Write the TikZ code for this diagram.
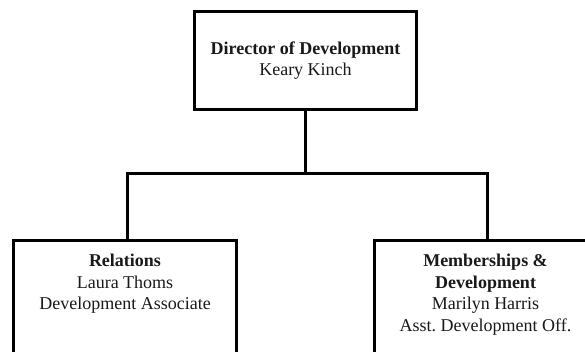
\documentclass[tikz,border=0pt]{standalone}
\usepackage{fontspec}
\setmainfont{Liberation Serif}
\frenchspacing
\begin{document}
\begin{tikzpicture}[x=1pt,y=-1pt,
  orgbox/.style={draw=black, line width=3pt, fill=white, rectangle, inner sep=0pt, anchor=north west},
  boxtext/.style={align=center, inner sep=0pt, text=black!90,
    font=\fontsize{18}{21.5}\selectfont},
  link/.style={draw=black, line width=3pt, line cap=rect}
]
\useasboundingbox (0,0) rectangle (585,352);
\clip (0,0) rectangle (585,352);

% top box: director
\node[orgbox, minimum width=222pt, minimum height=98pt] (dir) at (193,10) {};
\node[boxtext] (dirtext) at (dir.center)
  {\textbf{Director of Development}\\Keary Kinch};

% lower boxes run past the bottom edge
\node[orgbox, minimum width=223pt, minimum height=140pt] (rel) at (12,239) {};
\node[orgbox, minimum width=224pt, minimum height=140pt] (mem) at (373,239) {};

\node[boxtext, anchor=north] (reltext) at ([yshift=-15pt]rel.north)
  {\textbf{Relations}\\Laura Thoms\\Development Associate};
\node[boxtext, anchor=north, xshift=-1pt] (memtext) at ([yshift=-15pt]mem.north)
  {\textbf{Memberships \&}\\\textbf{Development}\\Marilyn Harris\\Asst. Development Off.};

% connector junctions
\coordinate (hl) at (127,174);
\coordinate (hr) at (487,174);

\draw[link] (dir.south) -- (dir.south |- hl);
\draw[link] (hl) -- (hr);
\draw[link] (hl) -- (hl |- rel.north);
\draw[link] (hr) -- (hr |- mem.north);
\end{tikzpicture}
\end{document}
